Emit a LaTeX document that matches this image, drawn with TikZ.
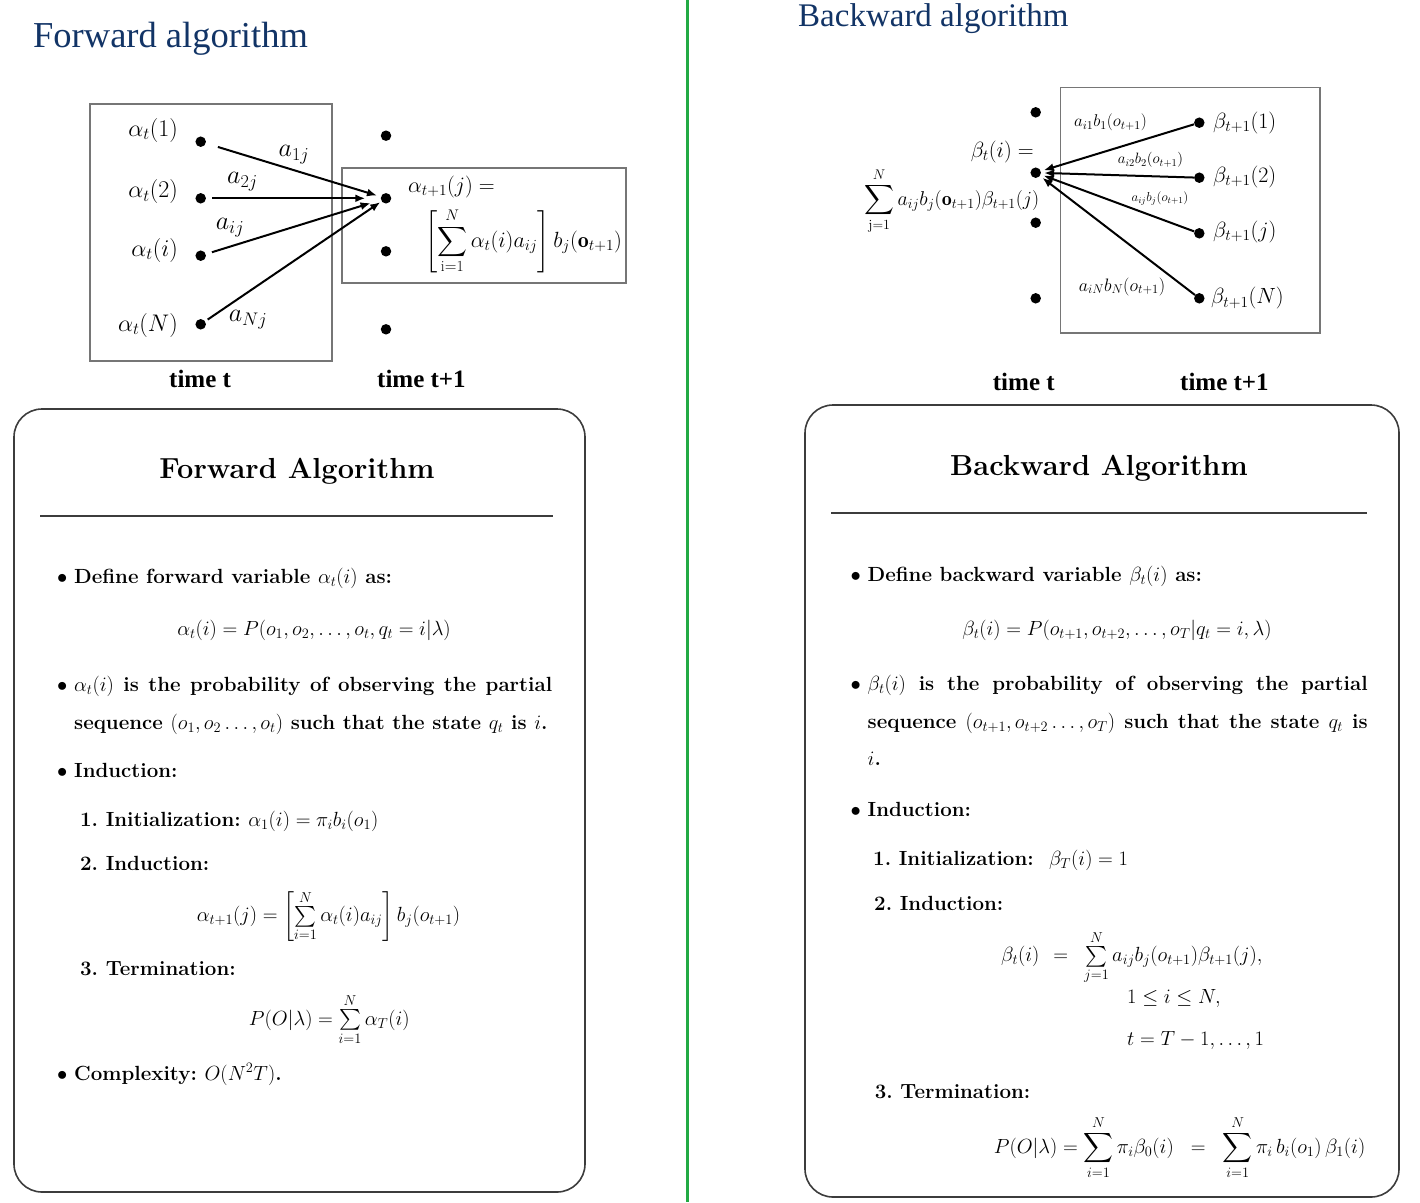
\RequirePackage{fix-cm}
\documentclass[tikz,border=0pt]{standalone}
\usepackage{amsmath}
\usepackage{fontspec}
\newfontfamily\timesfont{Liberation Serif}
\usepackage{xcolor}
\definecolor{hmmnavy}{RGB}{18,52,102}
\definecolor{hmmgreen}{RGB}{34,170,68}
\definecolor{hmmgray}{RGB}{118,118,118}
\definecolor{hmmframe}{RGB}{60,60,60}
\usepackage{tikz}
\usetikzlibrary{arrows.meta, positioning, calc}

\tikzset{
  state/.style={circle, fill=black, minimum size=10.5pt, inner sep=0pt},
  trans/.style={line width=2pt, -{Latex[length=10pt, width=8pt]}},
  diagbox/.style={draw=hmmgray, line width=1.2pt},
  steplabel/.style={inner sep=0pt, font=\fontsize{22}{24}\selectfont},
  weight/.style={inner sep=0pt, font=\fontsize{26}{28}\selectfont},
  timelabel/.style={anchor=base west, inner sep=0pt, font=\timesfont\bfseries\fontsize{25}{28}\selectfont},
  pagetitle/.style={anchor=base west, inner sep=0pt, text=hmmnavy},
  panel/.style={draw=hmmframe, line width=1.6pt, rounded corners=28pt},
  panelhead/.style={anchor=base, inner sep=0pt, font=\fontsize{29}{32}\selectfont\bfseries},
  bodyline/.style={anchor=base west, inner sep=0pt, font=\fontsize{20.5}{24}\selectfont\bfseries},
  bodyeq/.style={anchor=base, inner sep=0pt, font=\fontsize{20.5}{24}\selectfont},
  eqleft/.style={bodyeq, anchor=base west},
}
\newcommand{\itembul}{\makebox[17pt][l]{$\bullet$}}

\begin{document}
\begin{tikzpicture}[x=1pt, y=-1pt]

  \useasboundingbox (0,0) rectangle (1420,1202);

  % Separator
  \draw[hmmgreen, line width=3pt] (687,0) -- (687,1202);

  % Page titles
  \node[pagetitle, font=\timesfont\fontsize{36.5}{40}\selectfont] (fwdtitle) at (33,47) {Forward algorithm};
  \node[pagetitle, font=\timesfont\fontsize{33}{36}\selectfont] (bwdtitle) at (798,26) {Backward algorithm};

  % Forward trellis
  \draw[diagbox] (90,104) rectangle (332,361);
  \draw[diagbox] (342,168) rectangle (626,283);

  \node[state] (fa1) at (200.7,141.7) {};
  \node[state] (fa2) at (200.7,198.3) {};
  \node[state] (fai) at (200.7,255.7) {};
  \node[state] (faN) at (200.7,324.3) {};
  \node[state] (fb1) at (386,135.7) {};
  \node[state] (fbj) at (386,198.3) {};
  \node[state] (fb3) at (386,251.3) {};
  \node[state] (fb4) at (386,329.3) {};

  \node[steplabel, anchor=east, font=\fontsize{24}{26}\selectfont] (la1) at (178,130) {$\alpha_t(1)$};
  \node[steplabel, anchor=east, font=\fontsize{24}{26}\selectfont] (la2) at (178,191.7) {$\alpha_t(2)$};
  \node[steplabel, anchor=east, font=\fontsize{24}{26}\selectfont] (lai) at (178,250) {$\alpha_t(i)$};
  \node[steplabel, anchor=east, font=\fontsize{24}{26}\selectfont] (laN) at (178,325) {$\alpha_t(N)$};

  \draw[trans, shorten <=12.5pt, shorten >=4pt] (fa1) -- (fbj);
  \draw[trans, shorten <=6.3pt, shorten >=15.3pt] (fa2) -- (fbj);
  \draw[trans, shorten <=6.3pt, shorten >=10.7pt] (fai) -- (fbj);
  \draw[trans, shorten <=3pt, shorten >=1.5pt] (faN) -- (fbj);

  \node[weight] (w1) at (294,155) {$a_{1j}$};
  \node[weight] (w2) at (242.5,181.7) {$a_{2j}$};
  \node[weight] (wi) at (230,228) {$a_{ij}$};
  \node[weight] (wN) at (248,320) {$a_{Nj}$};

  \node[steplabel, anchor=west] (fnexteq) at (408,187) {$\alpha_{t+1}(j) =$};
  \node[steplabel, anchor=west] (fnextsum) at (425,241)
        {$\displaystyle\left[\sum_{\mathrm{i=1}}^{N}\alpha_t(i)a_{ij}\right]b_j(\mathbf{o}_{t+1})$};

  \node[timelabel] (ftimenow) at (169,387) {time t};
  \node[timelabel] (ftimenext) at (377,387) {time t+1};

  % Backward trellis
  \draw[diagbox] (1060.7,87.3) rectangle (1320,333);

  \node[state] (bl1) at (1035.7,112.3) {};
  \node[state] (blj) at (1035.7,172.7) {};
  \node[state] (bl3) at (1035.7,222.7) {};
  \node[state] (bl4) at (1035.7,298.3) {};
  \node[state] (br1) at (1199.3,122.7) {};
  \node[state] (br2) at (1199.3,177.7) {};
  \node[state] (brj) at (1199.3,233.3) {};
  \node[state] (brN) at (1199.3,298.3) {};

  \node[steplabel, anchor=west] (lb1) at (1213,122.7) {$\beta_{t+1}(1)$};
  \node[steplabel, anchor=west] (lb2) at (1213,176.7) {$\beta_{t+1}(2)$};
  \node[steplabel, anchor=west] (lbj) at (1213,231.7) {$\beta_{t+1}(j)$};
  \node[steplabel, anchor=west] (lbN) at (1211,298.3) {$\beta_{t+1}(N)$};

  \draw[trans, shorten >=3pt] (br1) -- (blj);
  \draw[trans, shorten >=3pt] (br2) -- (blj);
  \draw[trans, shorten >=3pt] (brj) -- (blj);
  \draw[trans, shorten >=3pt] (brN) -- (blj);

  \node[inner sep=0pt, font=\fontsize{17}{19}\selectfont] (e1) at (1110.5,122.7) {$a_{i1}b_1(o_{t+1})$};
  \node[inner sep=0pt, font=\fontsize{15}{17}\selectfont] (e2) at (1150.5,160) {$a_{i2}b_2(o_{t+1})$};
  \node[inner sep=0pt, font=\fontsize{13}{15}\selectfont] (ej) at (1160,198.3) {$a_{ij}b_j(o_{t+1})$};
  \node[inner sep=0pt, font=\fontsize{18}{20}\selectfont] (eN) at (1122,286.7) {$a_{iN}b_N(o_{t+1})$};

  \node[steplabel, anchor=east] (bdefl) at (1034,151.7) {$\beta_t(i) =$};
  \node[steplabel, anchor=west, font=\fontsize{20}{22}\selectfont] (bsum) at (864,201)
        {$\displaystyle\sum_{\mathrm{j=1}}^{N}a_{ij}b_j(\mathbf{o}_{t+1})\beta_{t+1}(j)$};

  \node[timelabel] (btimenow) at (992.7,390) {time t};
  \node[timelabel] (btimenext) at (1180,390) {time t+1};

  % Forward panel
  \draw[panel] (14,409) rectangle (585,1192);
  \node[panelhead] (fwdhead) at (297,478) {Forward Algorithm};
  \draw[hmmframe, line width=1.5pt] (40,516) -- (553,516);

  \node[bodyline] (fdef) at (57,583) {\itembul Define forward variable $\alpha_t(i)$ as:};
  \node[bodyeq] (fdefeq) at (314,635) {$\alpha_t(i) = P(o_1, o_2, \ldots, o_t, q_t = i|\lambda)$};
  \node[bodyline] (fprob) at (57,691.7)
        {\itembul\makebox[478pt][s]{$\alpha_t(i)$ is the probability of observing the partial}};
  \node[bodyline] (fseq) at (74,729) {sequence $(o_1, o_2 \ldots, o_t)$ such that the state $q_t$ is $i$.};
  \node[bodyline] (find) at (57,777.7) {\itembul Induction:};
  \node[bodyline] (finit) at (80,826.7) {1.\ Initialization:\ $\alpha_1(i) = \pi_i b_i(o_1)$};
  \node[bodyline] (fstep) at (80,870) {2.\ Induction:};
  \node[bodyeq] (fstepeq) at (328.5,921.7)
        {$\alpha_{t+1}(j) = \left[\sum\limits_{i=1}^{N}\alpha_t(i)a_{ij}\right]b_j(o_{t+1})$};
  \node[bodyline] (fterm) at (80,975) {3.\ Termination:};
  \node[bodyeq] (ftermeq) at (329.3,1025) {$P(O|\lambda) = \sum\limits_{i=1}^{N}\alpha_T(i)$};
  \node[bodyline] (fcomp) at (57,1080) {\itembul Complexity:\ $O(N^2T)$.};

  % Backward panel
  \draw[panel] (805,405) rectangle (1399,1197);
  \node[panelhead] (bwdhead) at (1099,475) {Backward Algorithm};
  \draw[hmmframe, line width=1.5pt] (831,513) -- (1367,513);

  \node[bodyline] (bdef) at (850.5,581.7) {\itembul Define backward variable $\beta_t(i)$ as:};
  \node[bodyeq] (bdefeq) at (1117,635) {$\beta_t(i) = P(o_{t+1}, o_{t+2}, \ldots, o_T|q_t = i, \lambda)$};
  \node[bodyline] (bprob) at (850.5,690)
        {\itembul\makebox[500pt][s]{$\beta_t(i)$ is the probability of observing the partial}};
  \node[bodyline] (bseq) at (867.5,728.3)
        {\makebox[500pt][s]{sequence $(o_{t+1}, o_{t+2} \ldots, o_T)$ such that the state $q_t$ is}};
  \node[bodyline] (bi) at (867.5,765) {$i$.};
  \node[bodyline] (bind) at (850.5,816.7) {\itembul Induction:};
  \node[bodyline] (binit) at (873,865) {1.\ Initialization:\ \ $\beta_T(i) = 1$};
  \node[bodyline] (bstep) at (874,910) {2.\ Induction:};
  \node[eqleft] (bstepeq) at (1001,961.7)
        {$\beta_t(i)$\hspace{14pt}$=$\hspace{16pt}$\sum\limits_{j=1}^{N}a_{ij}b_j(o_{t+1})\beta_{t+1}(j),$};
  \node[eqleft] (brange) at (1127,1003) {$1 \le i \le N,$};
  \node[eqleft] (bsteps) at (1127,1045) {$t = T-1, \ldots, 1$};
  \node[bodyline] (bterm) at (874.6,1098) {3.\ Termination:};
  \node[eqleft] (btermeq) at (993.6,1153)
        {$P(O|\lambda) = \displaystyle\sum_{i=1}^{N}\pi_i\beta_0(i)\;\;=\;\;\sum_{i=1}^{N}\pi_i\, b_i(o_1)\,\beta_1(i)$};

\end{tikzpicture}
\end{document}
